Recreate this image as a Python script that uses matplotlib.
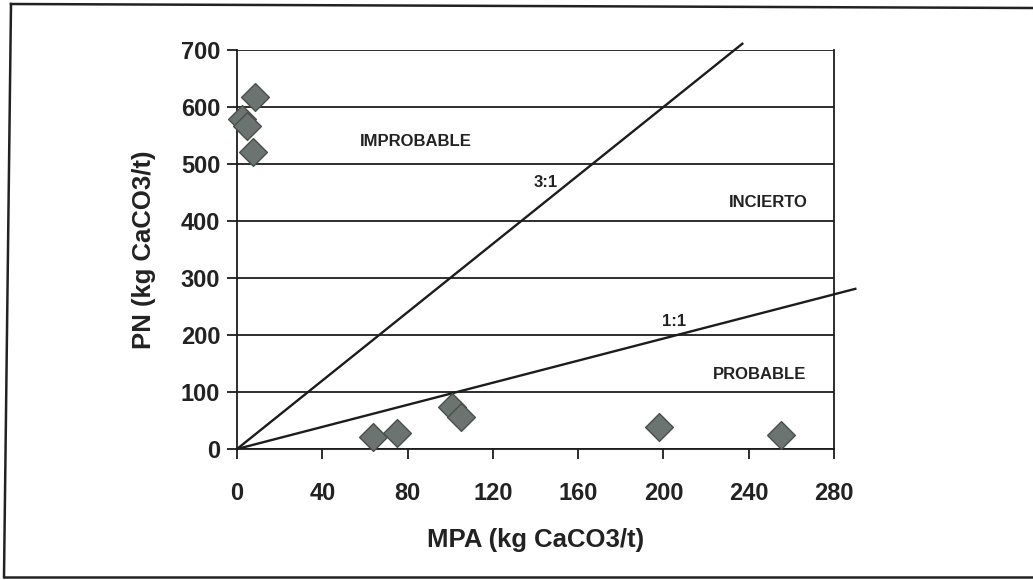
import matplotlib
matplotlib.use("Agg")
import matplotlib.pyplot as plt
from matplotlib.lines import Line2D

# Acid-base accounting: neutralisation potential vs. maximum potential acidity
mpa = [2.5, 4.5, 7.5, 8.5, 64, 75, 101, 105, 198, 255]
pn = [579, 566, 521, 617, 21, 28, 74, 56, 39, 25]

# Reference ratio lines (start, end)
line_31_x = [0, 237]
line_31_y = [0, 711]
line_11_x = [0, 290]
line_11_y = [0, 281]

x_ticks = [0, 40, 80, 120, 160, 200, 240, 280]
y_ticks = [0, 100, 200, 300, 400, 500, 600, 700]

zone_labels = ["IMPROBABLE", "INCIERTO", "PROBABLE"]
zone_x = [84, 249, 245]
zone_y = [539, 432, 130]
ratio_labels = ["3:1", "1:1"]
ratio_x = [145, 205]
ratio_y = [468, 223]

plt.rcParams["font.family"] = ["Liberation Sans", "DejaVu Sans"]
ink = "#1c1c1c"
txt_col = "#222222"

fig = plt.figure(figsize=(10.33, 5.8), dpi=100, facecolor="white")
ax = fig.add_axes([237 / 1033, 1 - 449 / 580, 597 / 1033, 399 / 580])
ax.set_xlim(0, 280)
ax.set_ylim(0, 700)

ax.set_xticks(x_ticks)
ax.set_yticks(y_ticks)
ax.tick_params(axis="both", direction="out", length=7, width=1.3, color=ink,
               labelsize=17, labelcolor=txt_col)
ax.tick_params(axis="x", pad=17)
ax.tick_params(axis="y", pad=5)
for lab in ax.get_xticklabels() + ax.get_yticklabels():
    lab.set_fontweight("bold")
ax.yaxis.grid(True, color=ink, linewidth=1.3)
ax.set_axisbelow(True)
for side in ["left", "bottom", "right"]:
    ax.spines[side].set_color(ink)
    ax.spines[side].set_linewidth(1.3)
ax.spines["top"].set_visible(False)

ax.plot(line_31_x, line_31_y, color=ink, linewidth=1.7, clip_on=False, zorder=3)
ax.plot(line_11_x, line_11_y, color=ink, linewidth=1.7, clip_on=False, zorder=3)

ax.scatter(mpa, pn, marker="D", s=200, facecolor="#6b7470", edgecolor="#485049",
           linewidth=1.0, zorder=4, clip_on=False)

for txt, x, y in zip(zone_labels, zone_x, zone_y):
    ax.text(x, y, txt, ha="center", va="center", fontsize=12,
            fontweight="bold", color=txt_col, zorder=5)
for txt, x, y in zip(ratio_labels, ratio_x, ratio_y):
    ax.text(x, y, txt, ha="center", va="center", fontsize=12,
            fontweight="bold", color=txt_col, zorder=5)

ax.set_xlabel("MPA (kg CaCO3/t)", fontsize=18.5, fontweight="bold", color=txt_col,
              labelpad=16)
ax.set_ylabel("PN (kg CaCO3/t)", fontsize=18.5, fontweight="bold", color=txt_col,
              labelpad=18)

# outer frame of the figure box (top, left, bottom)
frame = dict(color="#222222", linewidth=1.8, transform=fig.transFigure)
fig.add_artist(Line2D([11 / 1033, 1.0], [1 - 4 / 580, 1 - 8 / 580], **frame))
fig.add_artist(Line2D([11 / 1033, 4 / 1033], [1 - 4 / 580, 1 - 577 / 580], **frame))
fig.add_artist(Line2D([4 / 1033, 1.0], [1 - 577 / 580, 1 - 577 / 580], **frame))

fig.savefig("out.png", dpi=100, facecolor="white")
